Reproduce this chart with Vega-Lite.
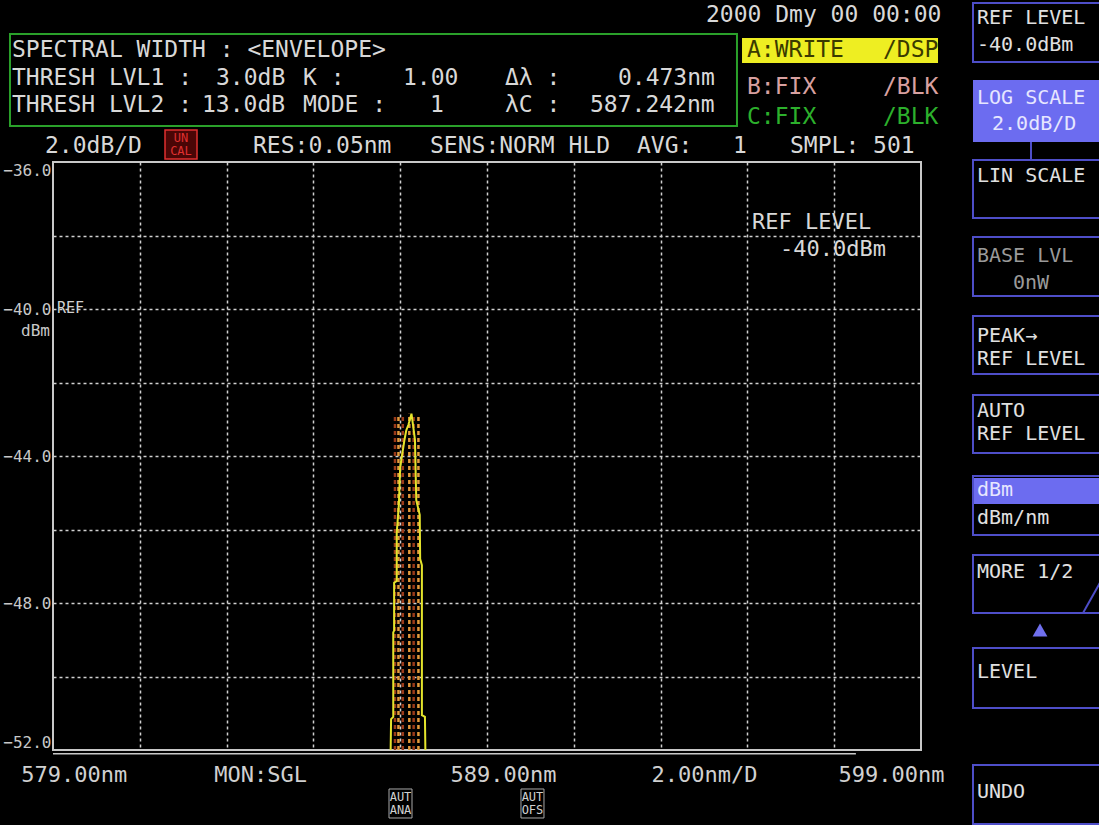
{
  "$schema": "https://vega.github.io/schema/vega-lite/v6.json",
  "width": 868,
  "height": 588,
  "autosize": {"type": "none"},
  "padding": {"left": 53, "top": 162, "right": 178, "bottom": 75},
  "background": "#000000",
  "config": {
    "view": {"stroke": "#c8c8c8", "strokeWidth": 2},
    "axis": {"labelFont": "DejaVu Sans Mono"},
    "text": {"font": "DejaVu Sans Mono"}
  },
  "datasets": {
    "traceA": [
      {"w": 586.78, "v": -52.0}, {"w": 586.79, "v": -51.16}, {"w": 586.84, "v": -51.1},
      {"w": 586.84, "v": -48.8}, {"w": 586.86, "v": -48.75}, {"w": 586.86, "v": -47.45},
      {"w": 586.92, "v": -47.4}, {"w": 586.92, "v": -46.1}, {"w": 586.97, "v": -45.3},
      {"w": 587.0, "v": -44.3}, {"w": 587.04, "v": -44.0}, {"w": 587.1, "v": -43.55},
      {"w": 587.14, "v": -43.3}, {"w": 587.19, "v": -43.15}, {"w": 587.26, "v": -42.85},
      {"w": 587.3, "v": -43.2}, {"w": 587.34, "v": -43.56}, {"w": 587.36, "v": -44.65},
      {"w": 587.37, "v": -45.2}, {"w": 587.45, "v": -45.6}, {"w": 587.46, "v": -46.8},
      {"w": 587.5, "v": -46.97}, {"w": 587.5, "v": -51.05}, {"w": 587.57, "v": -51.1},
      {"w": 587.58, "v": -52.0}
    ],
    "floor": [{"w": 579.0, "v": -52.1}, {"w": 597.5, "v": -52.1}],
    "sticks": [
      {"w": 586.88, "lo": -52, "hi": -42.9, "k": "r"},
      {"w": 586.96, "lo": -52, "hi": -42.9, "k": "o"},
      {"w": 587.06, "lo": -52, "hi": -42.9, "k": "r"},
      {"w": 587.21, "lo": -52, "hi": -42.85, "k": "o"},
      {"w": 587.31, "lo": -52, "hi": -42.9, "k": "r"},
      {"w": 587.42, "lo": -52, "hi": -42.9, "k": "o"}
    ],
    "boxes": [
      {"x": 578.009, "x2": 594.76, "y": -32.517, "y2": -35.02, "s": "green"},
      {"x": 594.876, "x2": 599.392, "y": -32.626, "y2": -33.306, "s": "yellow"},
      {"x": 581.581, "x2": 582.318, "y": -35.129, "y2": -35.918, "s": "uncal"},
      {"x": 600.198, "x2": 603.355, "y": -33.769, "y2": -35.456, "s": "sel"},
      {"x": 600.198, "x2": 603.355, "y": -44.599, "y2": -45.306, "s": "sel"},
      {"x": 600.198, "x2": 603.355, "y": -31.673, "y2": -33.279, "s": "menu"},
      {"x": 600.198, "x2": 603.355, "y": -35.946, "y2": -37.524, "s": "menu"},
      {"x": 600.198, "x2": 603.355, "y": -38.041, "y2": -39.646, "s": "menu"},
      {"x": 600.198, "x2": 603.355, "y": -40.19, "y2": -41.769, "s": "menu"},
      {"x": 600.198, "x2": 603.355, "y": -42.34, "y2": -43.918, "s": "menu"},
      {"x": 600.198, "x2": 603.355, "y": -44.544, "y2": -46.15, "s": "menu"},
      {"x": 600.198, "x2": 603.355, "y": -46.694, "y2": -48.272, "s": "menu"},
      {"x": 600.198, "x2": 603.355, "y": -49.224, "y2": -50.857, "s": "menu"},
      {"x": 600.198, "x2": 603.355, "y": -52.408, "y2": -54.014, "s": "menu"},
      {"x": 586.742, "x2": 587.272, "y": -53.061, "y2": -53.85, "s": "aut"},
      {"x": 589.783, "x2": 590.313, "y": -53.061, "y2": -53.85, "s": "aut"}
    ],
    "lines": [
      {"x": 601.535, "x2": 601.535, "y": -35.456, "y2": -35.946},
      {"x": 602.733, "x2": 603.12, "y": -48.272, "y2": -47.456}
    ],
    "tri": [{"x": 601.742, "y": -48.735}],
    "notes": [
      {"t": "2000 Dmy 00 00:00", "x": 594.046, "y": -32.0, "s": "hdr"},
      {"t": "SPECTRAL WIDTH : <ENVELOPE>", "x": 578.055, "y": -32.95, "s": "hdr"},
      {"t": "THRESH LVL1 :", "x": 578.055, "y": -33.71, "s": "hdr"},
      {"t": "3.0dB", "x": 582.756, "y": -33.71, "s": "hdr"},
      {"t": "K :", "x": 584.76, "y": -33.71, "s": "hdr"},
      {"t": "1.00", "x": 587.065, "y": -33.71, "s": "hdr"},
      {"t": "Δλ :", "x": 589.415, "y": -33.71, "s": "hdr"},
      {"t": "0.473nm", "x": 592.018, "y": -33.71, "s": "hdr"},
      {"t": "THRESH LVL2 :", "x": 578.055, "y": -34.45, "s": "hdr"},
      {"t": "13.0dB", "x": 582.433, "y": -34.45, "s": "hdr"},
      {"t": "MODE :", "x": 584.76, "y": -34.45, "s": "hdr"},
      {"t": "1", "x": 587.687, "y": -34.45, "s": "hdr"},
      {"t": "λC :", "x": 589.415, "y": -34.45, "s": "hdr"},
      {"t": "587.242nm", "x": 591.373, "y": -34.45, "s": "hdr"},
      {"t": "2.0dB/D", "x": 578.816, "y": -35.565, "s": "hdr"},
      {"t": "RES:0.05nm", "x": 583.608, "y": -35.565, "s": "hdr"},
      {"t": "SENS:NORM HLD", "x": 587.687, "y": -35.565, "s": "hdr"},
      {"t": "AVG:", "x": 592.456, "y": -35.565, "s": "hdr"},
      {"t": "1", "x": 594.668, "y": -35.565, "s": "hdr"},
      {"t": "SMPL: 501", "x": 595.982, "y": -35.565, "s": "hdr"},
      {"t": "A:WRITE", "x": 594.991, "y": -32.952, "s": "dsp"},
      {"t": "/DSP", "x": 598.124, "y": -32.952, "s": "dsp"},
      {"t": "B:FIX", "x": 594.991, "y": -33.96, "s": "b"},
      {"t": "/BLK", "x": 598.124, "y": -33.96, "s": "b"},
      {"t": "C:FIX", "x": 594.991, "y": -34.776, "s": "c"},
      {"t": "/BLK", "x": 598.124, "y": -34.776, "s": "c"},
      {"t": "REF LEVEL", "x": 595.106, "y": -37.633, "s": "plot"},
      {"t": "-40.0dBm", "x": 595.751, "y": -38.367, "s": "plot"},
      {"t": "REF", "x": 579.092, "y": -39.973, "s": "refsm"},
      {"t": "dBm", "x": 578.93, "y": -40.6, "s": "dbm"},
      {"t": "UN", "x": 581.949, "y": -35.347, "s": "uncal"},
      {"t": "CAL", "x": 581.949, "y": -35.701, "s": "uncal"},
      {"t": "AUT", "x": 587.007, "y": -53.279, "s": "aut"},
      {"t": "ANA", "x": 587.007, "y": -53.633, "s": "aut"},
      {"t": "AUT", "x": 590.048, "y": -53.279, "s": "aut"},
      {"t": "OFS", "x": 590.048, "y": -53.633, "s": "aut"},
      {"t": "REF LEVEL", "x": 600.29, "y": -32.082, "s": "menu"},
      {"t": "-40.0dBm", "x": 600.29, "y": -32.816, "s": "menu"},
      {"t": "LIN SCALE", "x": 600.29, "y": -36.381, "s": "menu"},
      {"t": "PEAK→", "x": 600.29, "y": -40.735, "s": "menu"},
      {"t": "REF LEVEL", "x": 600.29, "y": -41.36, "s": "menu"},
      {"t": "AUTO", "x": 600.29, "y": -42.78, "s": "menu"},
      {"t": "REF LEVEL", "x": 600.29, "y": -43.41, "s": "menu"},
      {"t": "dBm/nm", "x": 600.29, "y": -45.687, "s": "menu"},
      {"t": "MORE 1/2", "x": 600.29, "y": -47.156, "s": "menu"},
      {"t": "LEVEL", "x": 600.29, "y": -49.878, "s": "menu"},
      {"t": "UNDO", "x": 600.29, "y": -53.143, "s": "menu"},
      {"t": "LOG SCALE", "x": 600.29, "y": -34.259, "s": "menuSel"},
      {"t": "2.0dB/D", "x": 600.636, "y": -34.966, "s": "menuSel"},
      {"t": "dBm", "x": 600.29, "y": -44.925, "s": "menuSel"},
      {"t": "BASE LVL", "x": 600.29, "y": -38.558, "s": "menuDim"},
      {"t": "0nW", "x": 601.12, "y": -39.293, "s": "menuDim"}
    ]
  },
  "resolve": {"axis": {"x": "independent", "y": "independent"}},
  "layer": [
    {
      "data": {"name": "boxes"},
      "transform": [{"filter": "datum.s === 'yellow'"}],
      "mark": {"type": "rect", "color": "#eeee22"},
      "encoding": {
        "x": {"field": "x", "type": "quantitative", "scale": {"domain": [579, 599], "nice": false, "zero": false},
          "axis": {"orient": "bottom", "values": [581, 583, 585, 587, 589, 591, 593, 595, 597], "grid": true, "gridColor": "#d0d0d0", "gridDash": [3, 3], "gridWidth": 1.5, "labels": false, "ticks": false, "domain": false, "title": null}},
        "x2": {"field": "x2"},
        "y": {"field": "y", "type": "quantitative", "scale": {"domain": [-52, -36], "nice": false, "zero": false},
          "axis": {"orient": "left", "values": [-38, -40, -42, -44, -46, -48, -50], "grid": true, "gridColor": "#d0d0d0", "gridDash": [3, 3], "gridWidth": 1.5, "labels": false, "ticks": false, "domain": false, "title": null}},
        "y2": {"field": "y2"}
      }
    },
    {
      "data": {"name": "boxes"},
      "transform": [{"filter": "datum.s === 'sel'"}],
      "mark": {"type": "rect", "color": "#6c6cf0"},
      "encoding": {
        "x": {"field": "x", "type": "quantitative", "scale": {"domain": [579, 599], "nice": false, "zero": false}, "axis": null},
        "x2": {"field": "x2"},
        "y": {"field": "y", "type": "quantitative", "scale": {"domain": [-52, -36], "nice": false, "zero": false}, "axis": null},
        "y2": {"field": "y2"}
      }
    },
    {
      "data": {"name": "boxes"},
      "transform": [{"filter": "datum.s === 'uncal'"}],
      "mark": {"type": "rect", "fill": "#4a0606", "stroke": "#e03030", "strokeWidth": 1.5},
      "encoding": {
        "x": {"field": "x", "type": "quantitative", "scale": {"domain": [579, 599], "nice": false, "zero": false}, "axis": null},
        "x2": {"field": "x2"},
        "y": {"field": "y", "type": "quantitative", "scale": {"domain": [-52, -36], "nice": false, "zero": false}, "axis": null},
        "y2": {"field": "y2"}
      }
    },
    {
      "data": {"name": "boxes"},
      "transform": [{"filter": "datum.s === 'green'"}],
      "mark": {"type": "rect", "filled": false, "stroke": "#2aa02a", "strokeWidth": 2},
      "encoding": {
        "x": {"field": "x", "type": "quantitative", "scale": {"domain": [579, 599], "nice": false, "zero": false}, "axis": null},
        "x2": {"field": "x2"},
        "y": {"field": "y", "type": "quantitative", "scale": {"domain": [-52, -36], "nice": false, "zero": false}, "axis": null},
        "y2": {"field": "y2"}
      }
    },
    {
      "data": {"name": "boxes"},
      "transform": [{"filter": "datum.s === 'menu'"}],
      "mark": {"type": "rect", "filled": false, "stroke": "#4e4ec8", "strokeWidth": 2},
      "encoding": {
        "x": {"field": "x", "type": "quantitative", "scale": {"domain": [579, 599], "nice": false, "zero": false}, "axis": null},
        "x2": {"field": "x2"},
        "y": {"field": "y", "type": "quantitative", "scale": {"domain": [-52, -36], "nice": false, "zero": false}, "axis": null},
        "y2": {"field": "y2"}
      }
    },
    {
      "data": {"name": "boxes"},
      "transform": [{"filter": "datum.s === 'aut'"}],
      "mark": {"type": "rect", "filled": false, "stroke": "#a8a8a8", "strokeWidth": 1},
      "encoding": {
        "x": {"field": "x", "type": "quantitative", "scale": {"domain": [579, 599], "nice": false, "zero": false}, "axis": null},
        "x2": {"field": "x2"},
        "y": {"field": "y", "type": "quantitative", "scale": {"domain": [-52, -36], "nice": false, "zero": false}, "axis": null},
        "y2": {"field": "y2"}
      }
    },
    {
      "data": {"name": "lines"},
      "mark": {"type": "rule", "color": "#4e4ec8", "strokeWidth": 2},
      "encoding": {
        "x": {"field": "x", "type": "quantitative", "scale": {"domain": [579, 599], "nice": false, "zero": false}, "axis": null},
        "x2": {"field": "x2"},
        "y": {"field": "y", "type": "quantitative", "scale": {"domain": [-52, -36], "nice": false, "zero": false}, "axis": null},
        "y2": {"field": "y2"}
      }
    },
    {
      "data": {"name": "tri"},
      "mark": {"type": "point", "shape": "triangle-up", "filled": true, "color": "#7070ee", "size": 220, "opacity": 1},
      "encoding": {
        "x": {"field": "x", "type": "quantitative", "scale": {"domain": [579, 599], "nice": false, "zero": false}, "axis": null},
        "y": {"field": "y", "type": "quantitative", "scale": {"domain": [-52, -36], "nice": false, "zero": false}, "axis": null}
      }
    },
    {
      "data": {"name": "floor"},
      "mark": {"type": "line", "color": "#c8c8c8", "strokeWidth": 1.5},
      "encoding": {
        "x": {"field": "w", "type": "quantitative", "scale": {"domain": [579, 599], "nice": false, "zero": false},
          "axis": {"orient": "bottom", "values": [579.48, 583.77, 589.37, 594.0, 598.31],
            "labelExpr": "datum.value < 581 ? '579.00nm' : datum.value < 586 ? 'MON:SGL' : datum.value < 591 ? '589.00nm' : datum.value < 596 ? '2.00nm/D' : '599.00nm'",
            "grid": false, "ticks": false, "domain": false, "title": null, "labelFontSize": 22, "labelColor": "#d0d0d0",
            "labelPadding": 14, "labelBaseline": "top", "labelFlush": false, "labelOverlap": false, "labelBound": false}},
        "y": {"field": "v", "type": "quantitative", "scale": {"domain": [-52, -36], "nice": false, "zero": false},
          "axis": {"orient": "left", "values": [-36, -40, -44, -48, -52], "format": ".1f", "labelFlush": true,
            "grid": false, "ticks": false, "domain": false, "title": null, "labelFontSize": 16, "labelColor": "#c8c8c8",
            "labelPadding": 2, "labelOverlap": false}}
      }
    },
    {
      "data": {"name": "sticks"},
      "mark": {"type": "rule", "strokeWidth": 2.5, "strokeDash": [4, 3]},
      "encoding": {
        "x": {"field": "w", "type": "quantitative", "scale": {"domain": [579, 599], "nice": false, "zero": false}, "axis": null},
        "y": {"field": "lo", "type": "quantitative", "scale": {"domain": [-52, -36], "nice": false, "zero": false}, "axis": null},
        "y2": {"field": "hi"},
        "color": {"field": "k", "type": "nominal", "scale": {"domain": ["o", "r"], "range": ["#e39a3c", "#9a3a1a"]}, "legend": null}
      }
    },
    {
      "data": {"name": "traceA"},
      "mark": {"type": "line", "color": "#e4e42c", "strokeWidth": 2},
      "encoding": {
        "x": {"field": "w", "type": "quantitative", "scale": {"domain": [579, 599], "nice": false, "zero": false}, "axis": null},
        "y": {"field": "v", "type": "quantitative", "scale": {"domain": [-52, -36], "nice": false, "zero": false}, "axis": null},
        "order": {"value": null}
      }
    },
    {
      "data": {"name": "notes"},
      "transform": [{"filter": "datum.s === 'hdr'"}],
      "mark": {"type": "text", "align": "left", "baseline": "middle", "fontSize": 23, "color": "#d8d8d8"},
      "encoding": {
        "x": {"field": "x", "type": "quantitative", "scale": {"domain": [579, 599], "nice": false, "zero": false}, "axis": null},
        "y": {"field": "y", "type": "quantitative", "scale": {"domain": [-52, -36], "nice": false, "zero": false}, "axis": null},
        "text": {"field": "t"}
      }
    },
    {
      "data": {"name": "notes"},
      "transform": [{"filter": "datum.s === 'dsp'"}],
      "mark": {"type": "text", "align": "left", "baseline": "middle", "fontSize": 23, "color": "#3a3a00"},
      "encoding": {
        "x": {"field": "x", "type": "quantitative", "scale": {"domain": [579, 599], "nice": false, "zero": false}, "axis": null},
        "y": {"field": "y", "type": "quantitative", "scale": {"domain": [-52, -36], "nice": false, "zero": false}, "axis": null},
        "text": {"field": "t"}
      }
    },
    {
      "data": {"name": "notes"},
      "transform": [{"filter": "datum.s === 'b'"}],
      "mark": {"type": "text", "align": "left", "baseline": "middle", "fontSize": 23, "color": "#d8a0a0"},
      "encoding": {
        "x": {"field": "x", "type": "quantitative", "scale": {"domain": [579, 599], "nice": false, "zero": false}, "axis": null},
        "y": {"field": "y", "type": "quantitative", "scale": {"domain": [-52, -36], "nice": false, "zero": false}, "axis": null},
        "text": {"field": "t"}
      }
    },
    {
      "data": {"name": "notes"},
      "transform": [{"filter": "datum.s === 'c'"}],
      "mark": {"type": "text", "align": "left", "baseline": "middle", "fontSize": 23, "color": "#2cb02c"},
      "encoding": {
        "x": {"field": "x", "type": "quantitative", "scale": {"domain": [579, 599], "nice": false, "zero": false}, "axis": null},
        "y": {"field": "y", "type": "quantitative", "scale": {"domain": [-52, -36], "nice": false, "zero": false}, "axis": null},
        "text": {"field": "t"}
      }
    },
    {
      "data": {"name": "notes"},
      "transform": [{"filter": "datum.s === 'plot'"}],
      "mark": {"type": "text", "align": "left", "baseline": "middle", "fontSize": 22, "color": "#d8d8d8"},
      "encoding": {
        "x": {"field": "x", "type": "quantitative", "scale": {"domain": [579, 599], "nice": false, "zero": false}, "axis": null},
        "y": {"field": "y", "type": "quantitative", "scale": {"domain": [-52, -36], "nice": false, "zero": false}, "axis": null},
        "text": {"field": "t"}
      }
    },
    {
      "data": {"name": "notes"},
      "transform": [{"filter": "datum.s === 'refsm'"}],
      "mark": {"type": "text", "align": "left", "baseline": "middle", "fontSize": 15, "color": "#d0d0d0"},
      "encoding": {
        "x": {"field": "x", "type": "quantitative", "scale": {"domain": [579, 599], "nice": false, "zero": false}, "axis": null},
        "y": {"field": "y", "type": "quantitative", "scale": {"domain": [-52, -36], "nice": false, "zero": false}, "axis": null},
        "text": {"field": "t"}
      }
    },
    {
      "data": {"name": "notes"},
      "transform": [{"filter": "datum.s === 'dbm'"}],
      "mark": {"type": "text", "align": "right", "baseline": "middle", "fontSize": 16, "color": "#c8c8c8"},
      "encoding": {
        "x": {"field": "x", "type": "quantitative", "scale": {"domain": [579, 599], "nice": false, "zero": false}, "axis": null},
        "y": {"field": "y", "type": "quantitative", "scale": {"domain": [-52, -36], "nice": false, "zero": false}, "axis": null},
        "text": {"field": "t"}
      }
    },
    {
      "data": {"name": "notes"},
      "transform": [{"filter": "datum.s === 'uncal'"}],
      "mark": {"type": "text", "align": "center", "baseline": "middle", "fontSize": 12, "color": "#e03030"},
      "encoding": {
        "x": {"field": "x", "type": "quantitative", "scale": {"domain": [579, 599], "nice": false, "zero": false}, "axis": null},
        "y": {"field": "y", "type": "quantitative", "scale": {"domain": [-52, -36], "nice": false, "zero": false}, "axis": null},
        "text": {"field": "t"}
      }
    },
    {
      "data": {"name": "notes"},
      "transform": [{"filter": "datum.s === 'aut'"}],
      "mark": {"type": "text", "align": "center", "baseline": "middle", "fontSize": 12, "color": "#d0d0d0"},
      "encoding": {
        "x": {"field": "x", "type": "quantitative", "scale": {"domain": [579, 599], "nice": false, "zero": false}, "axis": null},
        "y": {"field": "y", "type": "quantitative", "scale": {"domain": [-52, -36], "nice": false, "zero": false}, "axis": null},
        "text": {"field": "t"}
      }
    },
    {
      "data": {"name": "notes"},
      "transform": [{"filter": "datum.s === 'menu'"}],
      "mark": {"type": "text", "align": "left", "baseline": "middle", "fontSize": 20, "color": "#e0e0e0"},
      "encoding": {
        "x": {"field": "x", "type": "quantitative", "scale": {"domain": [579, 599], "nice": false, "zero": false}, "axis": null},
        "y": {"field": "y", "type": "quantitative", "scale": {"domain": [-52, -36], "nice": false, "zero": false}, "axis": null},
        "text": {"field": "t"}
      }
    },
    {
      "data": {"name": "notes"},
      "transform": [{"filter": "datum.s === 'menuSel'"}],
      "mark": {"type": "text", "align": "left", "baseline": "middle", "fontSize": 20, "color": "#e6e6ff"},
      "encoding": {
        "x": {"field": "x", "type": "quantitative", "scale": {"domain": [579, 599], "nice": false, "zero": false}, "axis": null},
        "y": {"field": "y", "type": "quantitative", "scale": {"domain": [-52, -36], "nice": false, "zero": false}, "axis": null},
        "text": {"field": "t"}
      }
    },
    {
      "data": {"name": "notes"},
      "transform": [{"filter": "datum.s === 'menuDim'"}],
      "mark": {"type": "text", "align": "left", "baseline": "middle", "fontSize": 20, "color": "#9a9a9a"},
      "encoding": {
        "x": {"field": "x", "type": "quantitative", "scale": {"domain": [579, 599], "nice": false, "zero": false}, "axis": null},
        "y": {"field": "y", "type": "quantitative", "scale": {"domain": [-52, -36], "nice": false, "zero": false}, "axis": null},
        "text": {"field": "t"}
      }
    }
  ]
}
